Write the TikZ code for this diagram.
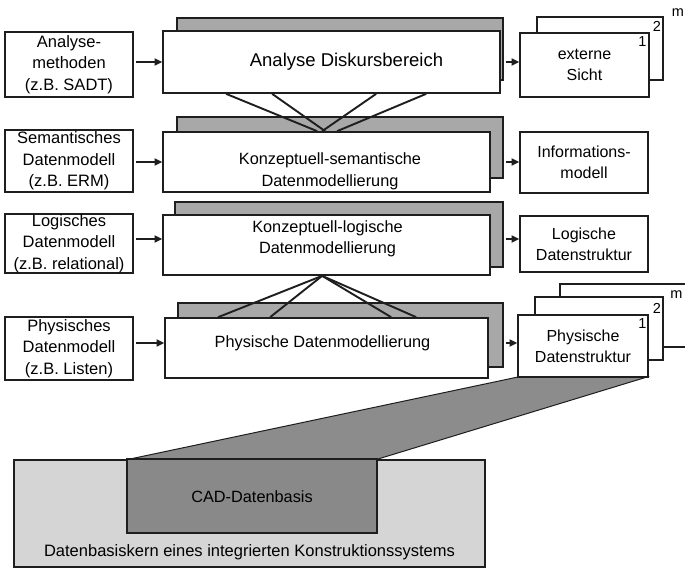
\documentclass[tikz,border=0pt]{standalone}
\usepackage{fontspec}
\setmainfont{Liberation Sans}
\usetikzlibrary{arrows.meta,calc}
\definecolor{inkc}{HTML}{1E1E1E}
\definecolor{bandgray}{HTML}{A8A8A8}
\definecolor{funnelgray}{HTML}{8C8C8C}
\definecolor{coregray}{HTML}{898989}
\definecolor{basegray}{HTML}{D5D5D5}
\begin{document}
\begin{tikzpicture}[x=1pt,y=-1pt,
  ink/.style={draw=inkc, line width=1.7pt},
  sidebox/.style={ink, fill=white, inner sep=0pt, align=center,
    font=\fontsize{16.5}{21.5}\selectfont},
  mainbox/.style={ink, fill=white, inner sep=0pt},
  backbox/.style={ink, fill=bandgray, inner sep=0pt},
  pagebox/.style={ink, fill=white, inner sep=0pt, align=center,
    font=\fontsize{16}{21}\selectfont},
  txt/.style={align=center, inner sep=0pt, font=\fontsize{16.3}{21.5}\selectfont},
  num/.style={inner sep=0pt, font=\fontsize{14.5}{14.5}\selectfont},
  arr/.style={draw=inkc, line width=1.7pt, shorten <=2pt,
    -{Triangle[length=7.5pt,width=7pt]}},
  link/.style={draw=inkc, line width=1.9pt},
]
\clip (0,0) rectangle (685,570);
\fill[white] (0,0) rectangle (685,570);

% funnel from the physical structure down to the database core
\filldraw[fill=funnelgray, draw=inkc, line width=1pt]
  (518,377) -- (647,377) -- (378,459) -- (130,459) -- cycle;

% database core of the integrated design system
\node[ink, fill=basegray, minimum width=471pt, minimum height=107pt] (base) at (249.5,513.5) {};
\node[ink, fill=coregray, minimum width=250pt, minimum height=74pt] (cad) at (252,496) {};
\node[txt, font=\fontsize{16.3}{20}\selectfont] (cadt) at (252,497) {CAD-Datenbasis};
\node[txt, font=\fontsize{16.5}{20}\selectfont] (baset) at (249.5,552) {Datenbasiskern eines integrierten Konstruktionssystems};

% stacked modelling steps (back sheet + front sheet)
\node[backbox, minimum width=326pt, minimum height=62pt] (b1) at (340,49) {};
\node[mainbox, minimum width=337pt, minimum height=62pt] (m1) at (331.5,62) {};
\node[backbox, minimum width=326pt, minimum height=61pt] (b2) at (340,147.5) {};
\node[mainbox, minimum width=327pt, minimum height=60pt] (m2) at (326.5,162) {};
\node[backbox, minimum width=328pt, minimum height=65pt] (b3) at (339,234.5) {};
\node[mainbox, minimum width=327pt, minimum height=60pt] (m3) at (326.5,245) {};
\node[backbox, minimum width=325pt, minimum height=64pt] (b4) at (340.5,335) {};
\node[mainbox, minimum width=323pt, minimum height=60pt] (m4) at (326.5,348) {};

\node[txt, font=\fontsize{18.5}{22}\selectfont] (m1t) at (346.5,62) {Analyse Diskursbereich};
\node[txt] (m2t) at (330,171.5) {Konzeptuell-semantische\\Datenmodellierung};
\node[txt] (m3t) at (327.5,239) {Konzeptuell-logische\\Datenmodellierung};
\node[txt] (m4t) at (322.5,343) {Physische Datenmodellierung};

% input models
\node[sidebox, minimum width=128pt, minimum height=65pt] (l1) at (69,64.5) {Analyse-\\methoden\\(z.B. SADT)};
\node[sidebox, minimum width=128pt, minimum height=62pt] (l2) at (69,161) {Semantisches\\Datenmodell\\(z.B. ERM)};
\node[sidebox, minimum width=128pt, minimum height=57pt] (l3) at (69,243.5) {Logisches\\Datenmodell\\(z.B. relational)};
\node[sidebox, minimum width=128pt, minimum height=63pt] (l4) at (69,348.5) {Physisches\\Datenmodell\\(z.B. Listen)};

% results
\node[pagebox, minimum width=126pt, minimum height=63pt] (e2) at (600,48.5) {};
\node[pagebox, minimum width=129pt, minimum height=64pt] (e1) at (584.5,65) {externe\\Sicht};
\node[pagebox, minimum width=128pt, minimum height=61pt] (inf) at (584,162.5) {Informations-\\modell};
\node[pagebox, minimum width=128pt, minimum height=56pt] (ld) at (584,244) {Logische\\Datenstruktur};
\node[pagebox, minimum width=160pt, minimum height=63pt] (p3) at (640,315.5) {};
\node[pagebox, minimum width=128pt, minimum height=63pt] (p2) at (599,328.5) {};
\node[pagebox, minimum width=130pt, minimum height=62pt] (p1) at (583,346) {Physische\\Datenstruktur};

\node[num] (e2n) at (657,26) {2};
\node[num] (e1n) at (642.5,42) {1};
\node[num] (emn) at (678,13) {m};
\node[num] (p2n) at (657,308) {2};
\node[num] (p1n) at (642.5,324) {1};
\node[num] (pmn) at (676.5,295) {m};

% inputs into the modelling steps
\draw[arr] (l1.east |- m1.west) -- (m1.west);
\draw[arr] (l2.east |- m2.west) -- (m2.west);
\draw[arr] (l3.east |- m3t.west) -- (m3.west |- m3t.west);
\draw[arr] (l4.east |- m4t.west) -- (m4.west |- m4t.west);

% results of the modelling steps
\draw[arr] (b1.east |- m1.east) -- (e1.west |- m1.east);
\draw[arr] (b2.east |- m2.east) -- (inf.west |- m2.east);
\draw[arr] (b3.east |- m3t.east) -- (ld.west |- m3t.east);
\draw[arr] (b4.east |- m4t.east) -- (p1.west |- m4t.east);

% n:m links between analysis and semantic modelling
\draw[link] ($(m1.south west)+(64,0)$) -- ($(m2.north west)+(155,0)$);
\draw[link] ($(m1.south west)+(110,0)$) -- ($(m2.north west)+(163,0)$);
\draw[link] ($(m1.south west)+(214,0)$) -- ($(m2.north west)+(160,0)$);
\draw[link] ($(m1.south west)+(264,0)$) -- ($(m2.north west)+(175,0)$);

% links between logical and physical modelling
\coordinate (apex) at ($(m3.south west)+(160,0)$);
\draw[link] (apex) -- ($(m4.north west)+(54,0)$);
\draw[link] (apex) -- ($(m4.north west)+(106,0)$);
\draw[link] (apex) -- ($(m4.north west)+(227,0)$);
\draw[link] (apex) -- ($(m4.north west)+(252,0)$);
\end{tikzpicture}
\end{document}
